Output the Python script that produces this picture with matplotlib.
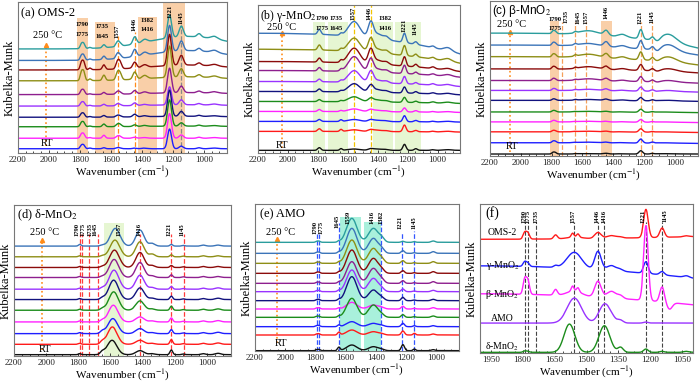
import numpy as np
import matplotlib.pyplot as plt

plt.rcParams['font.family'] = ['Liberation Serif', 'DejaVu Serif']
plt.rcParams['mathtext.fontset'] = 'stix'

# trace colours
teal = '#2a9d9d'; steel = '#3b74b8'; olive = '#8e8e16'; dred = '#8b0b0b'
purple = '#8e1f8e'; violet = '#9933ff'; navy = '#12127e'; green = '#1b8c1b'
magenta = '#ff22ff'; blue = '#1f1fff'; red = '#ff1a1a'; black = '#111111'

# ---------------- (a) OMS-2 ----------------
a_colors = [teal, steel, dred, olive, purple, violet, navy, green, magenta, blue]
a_offsets = [317, 282, 253, 220, 178, 143, 109, 80, 45, 13]
a_centers = [1790, 1775, 1735, 1645, 1557, 1540, 1446, 1382, 1221, 1145, 1030, 930, 1100]
a_fwhm = [20, 20, 20, 22, 25, 25, 28, 40, 30, 32, 30, 50, 600]
a_heights = [
    [14, 14, 3, 9, 14, 8, 22, 9, 70, 32, 10, 8, 38],
    [14, 14, 3, 10, 15, 8, 22, 9, 80, 30, 8, 7, 30],
    [22, 22, 5, 14, 22, 18, 18, 8, 95, 30, 7, 5, 15],
    [25, 25, 5, 16, 22, 18, 22, 10, 95, 25, 7, 5, 12],
    [12, 12, 2, 6, 8, 5, 10, 5, 75, 20, 5, 4, 6],
    [10, 10, 2, 5, 6, 3, 8, 3, 55, 15, 4, 3, 4],
    [10, 10, 2, 5, 5, 3, 8, 3, 80, 15, 3, 2, 3],
    [12, 12, 2, 8, 7, 6, 5, 3, 80, 10, 3, 2, 2],
    [12, 12, 2, 9, 6, 5, 3, 2, 75, 10, 3, 2, 0],
    [10, 10, 2, 3, 3, 2, 2, 2, 60, 8, 3, 2, 0],
]

# ---------------- (b) gamma-MnO2 ----------------
b_colors = [steel, olive, dred, purple, violet, navy, green, magenta, blue, red, black]
b_offsets = [360, 312, 275, 248, 215, 185, 155, 125, 95, 65, 8]
b_drop = [62, 42, 30, 20, 15, 10, 6, 3, 2, 2, 0]
b_centers = [1790, 1645, 1557, 1446, 1400, 1340, 1221, 1145, 1030, 930]
b_fwhm = [25, 20, 90, 40, 80, 40, 25, 25, 30, 60]
b_heights = [
    [15, 5, 45, 45, 15, 8, 28, 8, 5, 10],
    [15, 5, 40, 40, 12, 8, 30, 8, 5, 8],
    [12, 6, 45, 42, 12, 7, 28, 8, 5, 5],
    [10, 5, 45, 38, 10, 6, 25, 6, 4, 5],
    [8, 4, 35, 33, 8, 5, 22, 5, 4, 4],
    [8, 3, 25, 20, 8, 4, 18, 5, 3, 3],
    [6, 3, 15, 10, 6, 3, 15, 4, 3, 3],
    [6, 3, 8, 6, 4, 2, 12, 4, 2, 2],
    [6, 5, 6, 5, 4, 2, 18, 4, 2, 2],
    [8, 6, 5, 5, 4, 2, 20, 4, 2, 2],
    [8, 5, 4, 4, 4, 2, 18, 5, 2, 2],
]

# ---------------- (c) beta-MnO2 ----------------
c_colors = [teal, steel, olive, dred, purple, violet, navy, green, magenta, red, blue, black]
c_offsets = [371, 335, 300, 263, 228, 198, 168, 133, 103, 73, 40, 6]
c_drop = [45, 30, 25, 12, 8, 5, 3, 2, 2, 2, 2, 0]
c_centers = [1790, 1775, 1645, 1557, 1446, 1340, 1221, 1145, 1110, 1040]
c_fwhm = [20, 20, 20, 150, 35, 60, 28, 25, 40, 120]
c_heights = [
    [8, 6, 4, 12, 14, 8, 28, 8, -8, 25],
    [8, 6, 4, 8, 14, 6, 25, 8, -8, 20],
    [8, 6, 4, 10, 12, 6, 24, 8, -4, 15],
    [7, 5, 3, 8, 9, 4, 18, 6, -3, 8],
    [6, 4, 2, 6, 7, 3, 15, 5, -2, 5],
    [5, 4, 2, 4, 5, 2, 12, 4, -1, 3],
    [4, 3, 2, 3, 4, 2, 10, 3, 0, 2],
    [4, 3, 1, 2, 2, 1, 9, 2, 0, 1],
    [4, 3, 1, 2, 2, 1, 8, 2, 0, 1],
    [4, 3, 1, 2, 2, 1, 10, 2, 0, 1],
    [5, 4, 1, 2, 2, 1, 12, 3, 0, 1],
    [5, 4, 1, 1, 2, 1, 10, 2, 0, 1],
]

# ---------------- (d) delta-MnO2 ----------------
d_colors = [steel, olive, dred, purple, violet, navy, green, magenta, blue, red, black]
d_offsets = [329, 297, 265, 235, 200, 169, 137, 102, 67, 35, 4]
d_main_pos = [1570, 1572, 1575, 1577, 1578, 1580, 1580, 1582, 1585, 1588, 1590]
d_main_h = [53, 50, 52, 54, 57, 58, 55, 50, 45, 52, 43]
d_centers = [1790, 1650, 1416, 1340, 1221, 1145, 1020, 930]
d_fwhm = [20, 30, 60, 40, 20, 20, 30, 40]
d_heights = [
    [5, 3, 48, 8, 5, 2, 3, 3],
    [3, 3, 45, 8, 6, 2, 3, 3],
    [3, 3, 45, 6, 6, 2, 3, 3],
    [3, 3, 45, 5, 8, 2, 3, 3],
    [3, 4, 42, 5, 8, 2, 3, 4],
    [3, 5, 35, 4, 10, 2, 3, 4],
    [3, 5, 28, 4, 12, 2, 3, 4],
    [3, 5, 15, 3, 12, 2, 3, 4],
    [3, 7, 15, 3, 12, 2, 3, 4],
    [3, 8, 12, 3, 14, 2, 3, 4],
    [3, 8, 12, 3, 14, 2, 3, 4],
]

# ---------------- (e) AMO ----------------
e_colors = [teal, steel, olive, dred, purple, violet, navy, magenta, green, blue, red, black]
e_offsets = [326, 293, 263, 233, 203, 178, 151, 126, 101, 73, 48, 1]
e_centers = [1790, 1775, 1645, 1559, 1416, 1360, 1221, 1145, 1020]
e_fwhm = [20, 20, 20, 80, 75, 40, 25, 20, 30]
e_heights = [
    [3, 3, 3, 72, 42, 10, 3, 2, 4],
    [3, 3, 3, 75, 45, 10, 8, 2, 5],
    [3, 3, 3, 70, 45, 10, 8, 2, 5],
    [3, 3, 3, 70, 45, 8, 8, 2, 5],
    [3, 3, 3, 65, 45, 8, 8, 2, 5],
    [3, 3, 3, 65, 40, 6, 8, 2, 4],
    [3, 3, 3, 72, 32, 6, 10, 2, 4],
    [3, 3, 3, 20, 12, 4, 8, 2, 4],
    [3, 3, 3, 57, 37, 5, 8, 2, 4],
    [3, 3, 5, 15, 10, 3, 10, 3, 3],
    [3, 3, 8, 15, 10, 3, 12, 5, 3],
    [3, 3, 10, 17, 12, 3, 18, 5, 3],
]

# ---------------- (f) comparison ----------------
f_names = ['OMS-2', r'γ-MnO$_2$', r'β-MnO$_2$', 'AMO', r'δ-MnO$_2$']
f_colors = [red, blue, magenta, violet, green]
f_offsets = [342, 262, 178, 90, 2]
f_drop = [-8, 37, 33, 0, 0]
f_centers = [1790, 1775, 1645, 1580, 1557, 1565, 1540, 1446, 1416, 1382, 1340, 1221, 1145, 1110, 1030]
f_fwhm = [18, 18, 20, 60, 80, 15, 15, 35, 60, 50, 30, 25, 25, 30, 30]
f_heights = [
    [20, 18, 12, 0, 5, 12, 10, 18, 0, 8, 3, 85, 28, 0, 3],
    [14, 10, 5, 0, 48, 0, 0, 55, 0, 15, 5, 35, 10, 0, 5],
    [45, 40, 17, 0, 15, 15, 12, 48, 0, 20, 8, 225, 45, -20, 0],
    [0, 0, 0, 0, 75, 0, 0, 0, 55, 10, 8, 3, 0, 0, 0],
    [4, 3, 0, 85, 0, 0, 0, 0, 80, 0, 15, 10, 3, 0, 3],
]


def spectrum(x, offset, centers, fwhm, heights, drop=0.0, power=2.5, x0=2200, span=1350):
    y = offset - drop * ((x0 - x) / span) ** power
    for c, w, h in zip(centers, fwhm, heights):
        y = y + h * np.exp(-4 * np.log(2) * ((x - c) / w) ** 2)
    return y


fig = plt.figure(figsize=(7, 3.83), dpi=100)


def make_ax(l, t, r, b):
    return fig.add_axes([l / 700, 1 - b / 383, (r - l) / 700, (b - t) / 383])


def style(ax, xlim, ylim, ticks):
    ax.set_xlim(*xlim)
    ax.set_ylim(*ylim)
    ax.set_xticks(ticks)
    ax.set_xticklabels([str(t) for t in ticks], fontsize=6.5)
    ax.set_yticks([])
    ax.tick_params(axis='x', direction='in', length=2.5, width=0.6, pad=2, colors='#222222')
    ax.minorticks_on()
    ax.tick_params(axis='x', which='minor', direction='in', length=1.5, width=0.5)
    ax.tick_params(axis='y', which='both', left=False)
    for s in ax.spines.values():
        s.set_color('#777777')
        s.set_linewidth(0.8)
    ax.set_xlabel('Wavenumber (cm$^{-1}$)', fontsize=8, labelpad=0.5)
    ax.set_ylabel('Kubelka-Munk', fontsize=9, labelpad=2)


def band(ax, x1, x2, ytop, color):
    ax.fill_between([x1, x2], 0, ytop, color=color, lw=0, zorder=0)


def vline(ax, x, ytop, color, ls='--', lw=0.9):
    ax.plot([x, x], [0, ytop], ls=ls, color=color, lw=lw, zorder=1)


def arrow(ax, x, y0, y1, text_y, rt_y, tx=None):
    if tx is None:
        tx = x
    ax.plot([x, x], [y0, y1], ':', color='#ff8c1a', lw=1.2, zorder=1)
    ax.plot([x], [y1], marker='^', color='#ff8c1a', ms=3, zorder=1)
    ax.text(tx, text_y, '250 °C', fontsize=7.5, ha='center', va='center')
    ax.text(tx, rt_y, 'RT', fontsize=7.5, ha='center', va='center')


def plabel(ax, x, y, s, rot=90):
    ax.text(x, y, s, fontsize=4.8, rotation=rot, ha='center', va='center', fontweight='bold')


x = np.linspace(850, 2200, 1351)
xf = np.linspace(1000, 2000, 1001)
ticks = [2200, 2000, 1800, 1600, 1400, 1200, 1000]

# (a)
ax = make_ax(18, 2, 227, 153)
orange_band = '#f9cfa8'
band(ax, 1820, 1750, 410, orange_band)
band(ax, 1700, 1575, 400, orange_band)
band(ax, 1425, 1305, 415, orange_band)
band(ax, 1263, 1120, 460, orange_band)
vline(ax, 1557, 355, '#ff8c1a')
vline(ax, 1446, 370, '#ff8c1a')
vline(ax, 1145, 390, '#888888')
for col, off, hs in zip(a_colors, a_offsets, a_heights):
    ax.plot(x, spectrum(x, off, a_centers, a_fwhm, hs), color=col, lw=1.0, zorder=2)
arrow(ax, 2022, 22, 328, 358, 28, tx=2012)
plabel(ax, 1785, 390, '1790', 0)
plabel(ax, 1785, 360, '1775', 0)
plabel(ax, 1658, 385, '1735', 0)
plabel(ax, 1658, 355, '1645', 0)
plabel(ax, 1560, 372, '1557')
plabel(ax, 1449, 392, '1446')
plabel(ax, 1365, 405, '1382', 0)
plabel(ax, 1365, 375, '1416', 0)
plabel(ax, 1219, 430, '1221')
plabel(ax, 1150, 412, '1145')
ax.text(2180, 425, '(a) OMS-2', fontsize=9, va='center')
style(ax, (2200, 850), (0, 460), ticks)

# (b)
ax = make_ax(258, 5, 460, 153)
green_band = '#e6f6d2'
band(ax, 1830, 1750, 395, green_band)
band(ax, 1735, 1600, 395, green_band)
band(ax, 1430, 1300, 395, green_band)
band(ax, 1285, 1110, 395, green_band)
vline(ax, 1557, 445, '#f2c400')
vline(ax, 1446, 445, '#f2c400')
for col, off, dr, hs in zip(b_colors, b_offsets, b_drop, b_heights):
    ax.plot(x, spectrum(x, off, b_centers, b_fwhm, hs, drop=dr), color=col, lw=1.0, zorder=2)
arrow(ax, 2040, 15, 360, 378, 22)
plabel(ax, 1772, 405, '1790', 0)
plabel(ax, 1772, 375, '1775', 0)
plabel(ax, 1675, 405, '1735', 0)
plabel(ax, 1675, 375, '1645', 0)
plabel(ax, 1565, 420, '1557')
plabel(ax, 1455, 420, '1446')
plabel(ax, 1350, 405, '1382', 0)
plabel(ax, 1350, 375, '1416', 0)
plabel(ax, 1221, 385, '1221')
plabel(ax, 1150, 375, '1145')
ax.text(2185, 412, r'(b) γ-MnO$_2$', fontsize=8.5, va='center')
style(ax, (2200, 850), (0, 445), ticks)

# (c)
ax = make_ax(490, 1, 698, 156)
band(ax, 1810, 1750, 408, orange_band)
band(ax, 1480, 1410, 408, orange_band)
for xv in [1735, 1650, 1575, 1221, 1150]:
    vline(ax, xv, 405, '#f5a05a')
for col, off, dr, hs in zip(c_colors, c_offsets, c_drop, c_heights):
    ax.plot(x, spectrum(x, off, c_centers, c_fwhm, hs, drop=dr, power=3), color=col, lw=1.0, zorder=2)
arrow(ax, 2070, 13, 373, 396, 28, tx=2060)
plabel(ax, 1775, 412, '1790', 0)
plabel(ax, 1775, 385, '1775', 0)
plabel(ax, 1705, 420, '1735')
plabel(ax, 1630, 420, '1645')
plabel(ax, 1575, 420, '1557')
plabel(ax, 1446, 432, '1446')
plabel(ax, 1228, 420, '1221')
plabel(ax, 1150, 420, '1145')
ax.text(2185, 438, r'(c) β-MnO$_2$', fontsize=8.5, va='center',
        family=['Liberation Sans', 'DejaVu Sans'])
style(ax, (2200, 850), (0, 468), ticks)

# (d)
ax = make_ax(14, 205, 231, 356)
band(ax, 1640, 1515, 397, green_band)
for xv in [1790, 1775, 1735, 1680, 1416, 1221, 1145]:
    vline(ax, xv, 365, '#ff3b3b')
for i, col in enumerate(d_colors):
    y = spectrum(x, d_offsets[i], d_centers, d_fwhm, d_heights[i])
    y = y + d_main_h[i] * np.exp(-4 * np.log(2) * ((x - d_main_pos[i]) / 70) ** 2)
    ax.plot(x, y, color=col, lw=1.0, zorder=2)
arrow(ax, 2025, 17, 347, 369, 19, tx=2010)
for xv, s in zip([1810, 1768, 1728, 1693, 1545, 1425, 1238, 1155],
                 ['1790', '1775', '1735', '1645', '1557', '1416', '1221', '1145']):
    plabel(ax, xv, 378, s)
ax.text(2180, 420, r'(d) δ-MnO$_2$', fontsize=9, va='center')
style(ax, (2200, 850), (0, 452), ticks)

# (e)
ax = make_ax(255, 204, 459, 351)
aqua_band = '#a9f0dc'
band(ax, 1640, 1500, 403, aqua_band)
band(ax, 1480, 1365, 388, aqua_band)
for xv, yt in zip([1790, 1775, 1645, 1365, 1230, 1145], [350, 350, 385, 390, 355, 360]):
    vline(ax, xv, yt, '#3355ff')
for col, off, hs in zip(e_colors, e_offsets, e_heights):
    ax.plot(x, spectrum(x, off, e_centers, e_fwhm, hs), color=col, lw=1.0, zorder=2)
arrow(ax, 2055, 23, 335, 355, 21, tx=2028)
for xv, yv, s in zip([1805, 1765, 1655, 1585, 1425, 1368, 1240, 1150],
                     [372, 372, 390, 400, 400, 400, 385, 385],
                     ['1790', '1775', '1645', '1559', '1416', '1382', '1221', '1145']):
    plabel(ax, xv, yv, s)
ax.text(2165, 410, '(e) AMO', fontsize=9, va='center')
style(ax, (2200, 850), (0, 441), ticks)

# (f)
ax = make_ax(480, 204, 693, 353)
for xv in [1790, 1775, 1735, 1557, 1446, 1416, 1221, 1145]:
    vline(ax, xv, 395, '#444444', lw=0.8)
for col, off, dr, hs in zip(f_colors, f_offsets, f_drop, f_heights):
    ax.plot(xf, spectrum(xf, off, f_centers, f_fwhm, hs, drop=dr, power=2, x0=2000, span=1000),
            color=col, lw=1.0, zorder=2)
for xv, s in zip([1795, 1775, 1738, 1562, 1451, 1418, 1233, 1133],
                 ['1790', '1775', '1735', '1557', '1446', '1416', '1221', '1145']):
    plabel(ax, xv, 412, s)
for yv, s in zip([363, 262, 177, 105, 20], f_names):
    ax.text(1895, yv, s, fontsize=7, ha='center', va='center')
ax.text(1975, 420, '(f)', fontsize=10, va='center')
style(ax, (2000, 1000), (0, 448), [1950, 1800, 1650, 1500, 1350, 1200, 1050])

fig.savefig('out.png', dpi=100)
